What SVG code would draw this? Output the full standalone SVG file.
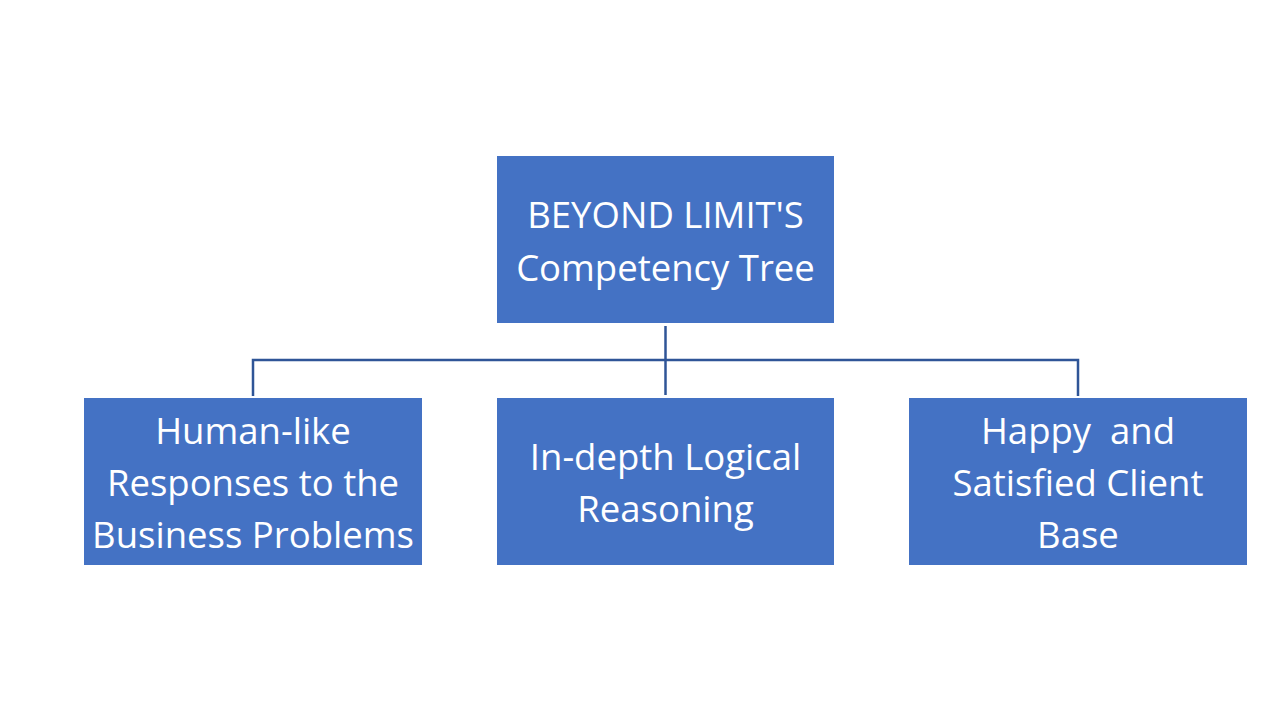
<svg xmlns="http://www.w3.org/2000/svg" width="1283" height="725" viewBox="0 0 1283 725">
<style>
.box{fill:#4472C4;}
.t{font-family:"Open Sans",Lato,sans-serif;font-size:36.5px;fill:#FFFFFF;text-anchor:middle;font-variant-ligatures:none;}
.c{stroke:#2F5597;stroke-width:2.5;fill:none;}
</style>
<rect width="1283" height="725" fill="#FFFFFF"/>
<g id="connectors">
<path class="c" d="M665.5,326 V395"/>
<path class="c" d="M253,396 V360 H1078 V396"/>
</g>
<g id="root">
<rect class="box" x="497" y="156" width="337" height="167"/>
<text class="t" x="665.5" y="228">BEYOND LIMIT'S</text>
<text class="t" x="665.5" y="281">Competency Tree</text>
</g>
<g id="node1">
<rect class="box" x="84" y="398" width="338" height="167"/>
<text class="t" x="253" y="444">Human-like</text>
<text class="t" x="253" y="496">Responses to the</text>
<text class="t" x="253" y="548">Business Problems</text>
</g>
<g id="node2">
<rect class="box" x="497" y="398" width="337" height="167"/>
<text class="t" x="665.5" y="470">In-depth Logical</text>
<text class="t" x="665.5" y="522">Reasoning</text>
</g>
<g id="node3">
<rect class="box" x="909" y="398" width="338" height="167"/>
<text class="t" x="1078" y="444" xml:space="preserve">Happy  and</text>
<text class="t" x="1078" y="496">Satisfied Client</text>
<text class="t" x="1078" y="548">Base</text>
</g>
</svg>
